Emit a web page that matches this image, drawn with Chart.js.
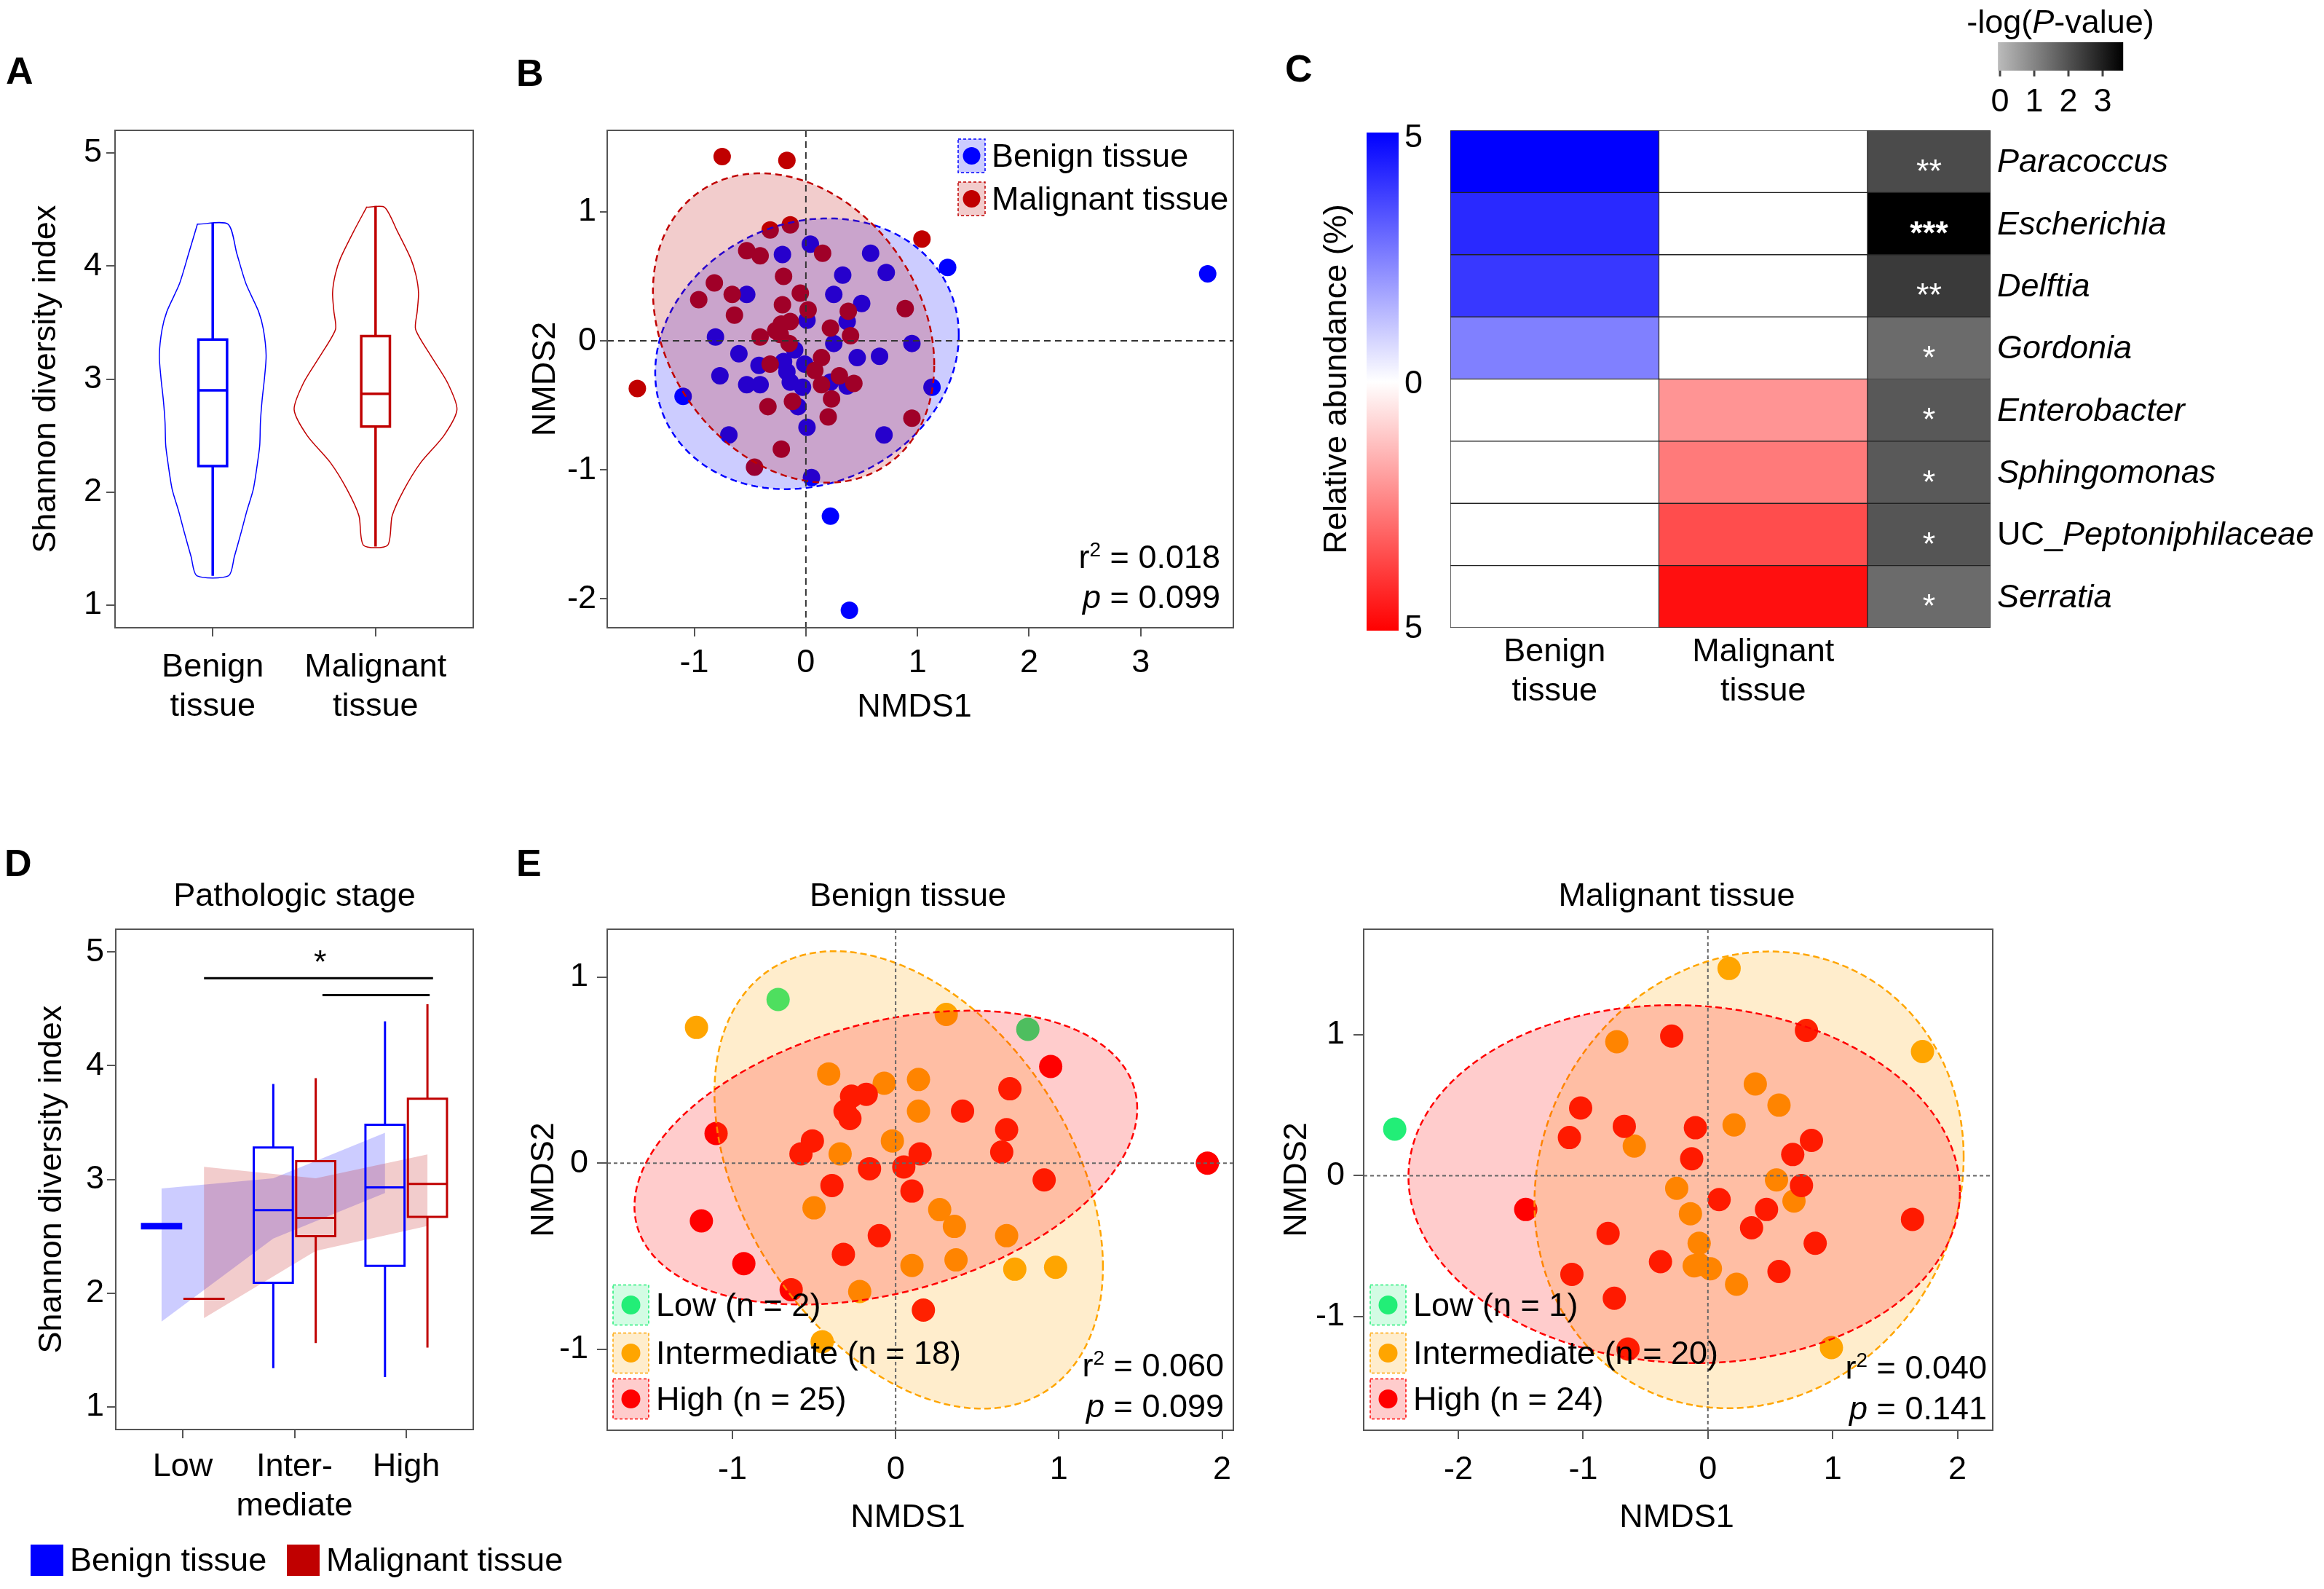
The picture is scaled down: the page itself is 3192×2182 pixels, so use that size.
<!DOCTYPE html>
<html>
<head>
<meta charset="utf-8">
<title>Microbiome figure</title>
<script src="https://cdn.jsdelivr.net/npm/chart.js@4.4.1/dist/chart.umd.min.js"></script>
<style>
  html, body { margin:0; padding:0; background:#ffffff; }
  body { position:relative; width:3192px; height:2182px; overflow:hidden; }
  canvas { position:absolute; }
  .panel { position:absolute; font: bold 52px 'Liberation Sans', Arial, sans-serif; line-height:52px; color:#000; }
</style>
</head>
<body>
<div class="panel" style="left:8px;top:71px">A</div>
<div class="panel" style="left:709px;top:74px">B</div>
<div class="panel" style="left:1765px;top:68px">C</div>
<div class="panel" style="left:6px;top:1159px">D</div>
<div class="panel" style="left:709px;top:1159px">E</div>
<script>
// ======================= DATA =======================
// Panel A – Shannon diversity per tissue (violin outline: value / half-width; box: min, q1, median, q3, max)
const tissueGroups = ['Benign tissue', 'Malignant tissue'];
const shannonTicks = [1, 2, 3, 4, 5];
const violinBenignY = [4.37, 4.11, 3.84, 3.60, 3.44, 3.21, 3.01, 2.81, 2.62, 2.42, 2.30, 2.03, 1.83, 1.63, 1.43, 1.26];
const violinBenignW = [0.094, 0.148, 0.205, 0.281, 0.311, 0.328, 0.318, 0.303, 0.293, 0.289, 0.279, 0.250, 0.209, 0.172, 0.133, 0.098];
const violinMalignantY = [4.52, 4.31, 4.07, 3.92, 3.76, 3.60, 3.44, 3.21, 2.97, 2.73, 2.50, 2.26, 2.02, 1.79, 1.53];
const violinMalignantW = [0.055, 0.133, 0.215, 0.248, 0.264, 0.256, 0.246, 0.338, 0.441, 0.500, 0.420, 0.277, 0.174, 0.102, 0.074];
const boxBenignA = [1.27, 2.23, 2.90, 3.35, 4.37];
const boxMalignantA = [1.53, 2.58, 2.87, 3.38, 4.52];

// Panel B – NMDS of all samples
const nmdsB_xTicks = [-1, 0, 1, 2, 3];
const nmdsB_yTicks = [-2, -1, 0, 1];
const benignB_x = [0.04, -0.21, 0.58, 0.72, 0.33, 1.27, -0.53, 0.25, 0.50, 0.01, 0.37, -0.81, 0.25, 0.95, -0.60, -0.10, 0.46, 0.66, -0.42, -0.20, -0.01, -0.77, -0.17, -0.14, -0.53, -0.41, -0.03, 0.22, 0.37, 1.13, -1.10, -0.07, 0.01, -0.69, 0.70, 0.05, 0.22, 0.39, 3.60];
const benignB_y = [0.75, 0.67, 0.68, 0.53, 0.51, 0.57, 0.36, 0.36, 0.29, 0.16, 0.15, 0.03, -0.02, -0.02, -0.10, -0.07, -0.13, -0.12, -0.19, -0.16, -0.18, -0.27, -0.24, -0.32, -0.34, -0.34, -0.36, -0.32, -0.35, -0.36, -0.43, -0.51, -0.67, -0.73, -0.73, -1.06, -1.36, -2.09, 0.52];
const malignantB_x = [-0.14, -0.32, -0.53, -0.41, 0.15, 1.04, -0.20, -0.82, -0.96, -0.66, -0.64, -0.05, 0.02, -0.21, -0.14, -0.22, 0.38, 0.89, 0.22, 0.40, -0.41, -0.23, -0.15, -0.32, 0.14, 0.08, 0.14, 0.30, 0.43, 0.23, -0.12, -0.34, 0.20, 0.95, -0.22, -0.46, -1.51, -0.75, -0.17, -0.27];
const malignantB_y = [0.90, 0.86, 0.70, 0.66, 0.68, 0.79, 0.50, 0.45, 0.32, 0.36, 0.20, 0.37, 0.24, 0.28, 0.15, 0.13, 0.23, 0.25, 0.10, 0.04, 0.03, 0.05, -0.02, -0.18, -0.13, -0.23, -0.34, -0.27, -0.33, -0.45, -0.47, -0.51, -0.59, -0.60, -0.84, -0.98, -0.37, 1.43, 1.40, 0.08];
// confidence ellipses: centre x, centre y, x half-extent, y half-extent, tilt
const ellipseBenignB = [0.01, -0.10, 1.36, 1.05, 0.14];
const ellipseMalignantB = [-0.11, 0.10, 1.26, 1.20, -0.24];
const statsB = ['0.018', '0.099'];

// Panel C – differentially abundant genera
const genera = ['Paracoccus', 'Escherichia', 'Delftia', 'Gordonia', 'Enterobacter', 'Sphingomonas', 'UC_Peptoniphilaceae', 'Serratia'];
const abundanceBenign = [5.0, 4.2, 3.9, 2.5, 0, 0, 0, 0];
const abundanceMalignant = [0, 0, 0, 0, 2.1, 2.6, 3.5, 4.7];
const negLogP = [2.16, 3.6, 2.48, 1.54, 1.91, 1.89, 1.96, 1.54];
const signifStars = ['**', '***', '**', '*', '*', '*', '*', '*'];
const abundanceBarTicks = ['5', '0', '5'];
const pBarTicks = [0, 1, 2, 3];

// Panel D – Shannon diversity by pathologic stage (min, q1, median, q3, max)
const stageLabels = ['Low', ['Inter-', 'mediate'], 'High'];
const stageBenign = [[2.57, 2.57, 2.589, 2.608, 2.608], [1.35, 2.09, 2.73, 3.28, 3.83], [1.27, 2.24, 2.93, 3.48, 4.38]];
const stageMalignant = [[1.95, 1.95, 1.95, 1.95, 1.95], [1.57, 2.50, 2.66, 3.16, 3.88], [1.53, 2.67, 2.96, 3.71, 4.53]];
const bandBenignLo = [1.75, 2.48, 2.88];
const bandBenignHi = [2.92, 3.01, 3.41];
const bandMalignantLo = [1.78, 2.37, 2.59];
const bandMalignantHi = [3.11, 3.01, 3.22];
const sigBrackets = [[1.19, 3.24, 4.77], [2.25, 3.21, 4.62]];
const sigMark = ['*', 2.23, 4.98];

// Panel E – NMDS by pathologic stage
const stageGroups = ['Low', 'Intermediate', 'High'];
const eBenignCounts = [2, 18, 25];
const eMalignantCounts = [1, 20, 24];
const eBenignLowX = [-0.72, 0.81];
const eBenignLowY = [0.88, 0.72];
const eBenignIntX = [-1.22, 0.31, -0.41, -0.07, 0.14, 0.14, -0.02, -0.34, -0.50, 0.27, 0.36, 0.68, 0.10, 0.37, 0.73, 0.98, -0.22, -0.45];
const eBenignIntY = [0.73, 0.80, 0.48, 0.43, 0.45, 0.28, 0.12, 0.05, -0.24, -0.25, -0.34, -0.39, -0.55, -0.52, -0.57, -0.56, -0.69, -0.96];
const eBenignHighX = [0.95, 0.70, -0.18, -0.27, -0.31, -0.28, 0.41, 0.68, -1.10, -0.51, -0.58, 0.65, 0.15, -0.16, 0.05, 1.91, 0.91, -0.39, 0.10, -1.19, -0.10, -0.32, -0.93, -0.64, 0.17];
const eBenignHighY = [0.52, 0.40, 0.37, 0.36, 0.28, 0.24, 0.28, 0.18, 0.16, 0.12, 0.05, 0.06, 0.05, -0.03, -0.02, 0.00, -0.09, -0.12, -0.15, -0.31, -0.39, -0.49, -0.54, -0.68, -0.79];
const eMalLowX = [-2.51];
const eMalLowY = [0.33];
const eMalIntX = [0.17, 1.72, -0.73, 0.38, 0.57, 0.21, -0.59, 0.55, -0.25, 0.69, -0.14, -0.07, -0.07, 0.02, 0.23, 0.99, -0.11];
const eMalIntY = [1.47, 0.88, 0.95, 0.65, 0.50, 0.36, 0.21, -0.03, -0.09, -0.18, -0.27, -0.48, -0.63, -0.66, -0.77, -1.22, -0.64];
const eMalHighX = [-0.29, 0.79, -1.02, -0.67, -1.11, -0.10, -0.13, 0.83, 0.68, 0.75, 0.09, 0.47, 0.35, 1.64, 0.86, -1.46, -0.80, -0.38, 0.57, -1.09, -0.75, -0.64];
const eMalHighY = [0.99, 1.03, 0.48, 0.35, 0.27, 0.34, 0.12, 0.25, 0.15, -0.07, -0.17, -0.24, -0.37, -0.31, -0.48, -0.24, -0.41, -0.61, -0.68, -0.70, -0.87, -1.23];
const ellipseEBenignInt = [0.08, -0.09, 1.19, 1.23, -0.39];
const ellipseEBenignHigh = [-0.06, 0.03, 1.54, 0.79, 0.34];
const ellipseEMalInt = [0.33, -0.03, 1.72, 1.62, 0.10];
const ellipseEMalHigh = [-0.19, -0.06, 2.21, 1.27, -0.04];
const statsEBenign = ['0.060', '0.099'];
const statsEMalignant = ['0.040', '0.141'];
const eBenignXTicks = [-1, 0, 1, 2];
const eBenignYTicks = [-1, 0, 1];
const eMalXTicks = [-2, -1, 0, 1, 2];
const eMalYTicks = [-1, 0, 1];

// ======================= STYLE =======================
const FONT = "'Liberation Sans', Arial, Helvetica, sans-serif";
const BLUE = '#0000ff', DRED = '#c00000';
const STAGE_COLORS = ['#22ee77', '#ffa500', '#ff0000'];
const STAGE_FILLS = ['rgba(34,238,119,0.2)', 'rgba(255,165,0,0.2)', 'rgba(255,0,0,0.2)'];
const BOX_HW_A = 0.088, BOX_HW_D = 0.175, STAGE_OFFSET = 0.19;
Chart.defaults.font.family = FONT;
Chart.defaults.font.size = 45;
Chart.defaults.color = '#000';

function font(size, style) { return (style ? style + ' ' : '') + size + 'px ' + FONT; }

function baseOptions(extra) {
  const plugins = Object.assign({ legend: { display: false }, tooltip: { enabled: false }, title: { display: false } }, extra.plugins || {});
  return Object.assign({ responsive: false, maintainAspectRatio: false, animation: false, devicePixelRatio: 1, events: [] }, extra, { plugins });
}

function zeroPad(s) { s.paddingLeft = 0; s.paddingRight = 0; s.paddingTop = 0; s.paddingBottom = 0; }

function axis(pos, min, max, ticks, o) {
  const horiz = pos === 'bottom';
  return {
    type: 'linear', position: pos, min: min, max: max,
    afterBuildTicks: s => { s.ticks = ticks.map(v => ({ value: v })); },
    afterFit: s => { if (horiz) s.height = o.size; else s.width = o.size; zeroPad(s); },
    grid: { display: true, drawOnChartArea: false, drawTicks: true, tickLength: o.tick, tickWidth: 2, tickColor: '#555', color: '#555', lineWidth: 2 },
    border: { display: false },
    ticks: { padding: o.pad, color: '#000', font: { size: 45, lineHeight: 1.2 }, maxRotation: 0, minRotation: 0, autoSkip: false,
             callback: o.labels ? ((v, i) => o.labels[i]) : (v => String(v)) },
    title: o.title ? { display: true, text: o.title, color: '#000', font: { size: 45, lineHeight: 1.2 }, padding: o.titlePad } : { display: false }
  };
}

function makeChart(id, rect, config) {
  const c = document.createElement('canvas');
  c.id = id; c.width = rect.w; c.height = rect.h;
  c.style.left = rect.x + 'px'; c.style.top = rect.y + 'px';
  c.style.width = rect.w + 'px'; c.style.height = rect.h + 'px';
  document.body.appendChild(c);
  return new Chart(c.getContext('2d'), config);
}

function lineSet(data, color, width, tension) {
  return { type: 'scatter', data: data, showLine: true, borderColor: color, borderWidth: width, pointRadius: 0, pointHoverRadius: 0,
           fill: false, tension: tension, spanGaps: false, borderCapStyle: 'square', borderJoinStyle: 'miter', clip: false };
}
function pointSet(xs, ys, color, r) {
  return { type: 'scatter', data: xs.map((x, i) => ({ x: x, y: ys[i] })), backgroundColor: color, borderWidth: 0, pointRadius: r, pointHoverRadius: r };
}
function boxPath(c, hw, s) {
  const [mn, q1, md, q3, mx] = s;
  return [
    { x: c - hw, y: q1 }, { x: c + hw, y: q1 }, { x: c + hw, y: q3 }, { x: c - hw, y: q3 }, { x: c - hw, y: q1 }, { x: c, y: null },
    { x: c - hw, y: md }, { x: c + hw, y: md }, { x: c, y: null },
    { x: c, y: q3 }, { x: c, y: mx }, { x: c, y: null },
    { x: c, y: q1 }, { x: c, y: mn }
  ];
}
function violinPath(c, ys, ws) {
  const left = ys.map((y, i) => ({ x: c - ws[i], y: y }));
  const right = ys.map((y, i) => ({ x: c + ws[i], y: y })).reverse();
  return left.concat(right, [left[0]]);
}

function drawFrame(chart) {
  const { ctx, chartArea: a } = chart;
  ctx.save(); ctx.setLineDash([]); ctx.strokeStyle = '#555'; ctx.lineWidth = 2;
  ctx.strokeRect(a.left, a.top, a.right - a.left, a.bottom - a.top);
  ctx.restore();
}
function drawCaption(chart, text, dx, y) {
  const { ctx, chartArea: a } = chart;
  ctx.save(); ctx.fillStyle = '#000'; ctx.font = font(45); ctx.textAlign = 'center'; ctx.textBaseline = 'middle';
  ctx.fillText(text, (a.left + a.right) / 2 + dx, y);
  ctx.restore();
}
function drawZeroLines(chart, color, dash, width) {
  const { ctx, chartArea: a, scales: { x, y } } = chart;
  const x0 = x.getPixelForValue(0), y0 = y.getPixelForValue(0);
  ctx.save(); ctx.beginPath(); ctx.setLineDash(dash); ctx.strokeStyle = color; ctx.lineWidth = width;
  ctx.moveTo(x0, a.top); ctx.lineTo(x0, a.bottom); ctx.moveTo(a.left, y0); ctx.lineTo(a.right, y0);
  ctx.stroke(); ctx.restore();
}
function drawEllipse(chart, e, fill, stroke, dash, width) {
  const [cx, cy, A, B, phi] = e;
  const { ctx, scales: { x, y } } = chart;
  ctx.save(); ctx.beginPath();
  for (let i = 0; i <= 240; i++) {
    const t = i / 240 * 2 * Math.PI;
    const X = x.getPixelForValue(cx + A * Math.cos(t));
    const Y = y.getPixelForValue(cy + B * Math.sin(t + phi));
    if (i === 0) ctx.moveTo(X, Y); else ctx.lineTo(X, Y);
  }
  ctx.closePath();
  ctx.fillStyle = fill; ctx.fill();
  ctx.setLineDash(dash); ctx.lineWidth = width; ctx.strokeStyle = stroke; ctx.stroke();
  ctx.restore();
}
function drawRich(ctx, parts, x, y, align, size) {
  const segs = parts.map(p => {
    const f = font(p.sup ? Math.round(size * 0.62) : size, p.i ? 'italic' : '');
    ctx.font = f;
    return { p: p, f: f, w: ctx.measureText(p.t).width };
  });
  const total = segs.reduce((s, q) => s + q.w, 0);
  let cx = align === 'right' ? x - total : align === 'center' ? x - total / 2 : x;
  ctx.textAlign = 'left'; ctx.textBaseline = 'alphabetic';
  segs.forEach(s => {
    ctx.font = s.f;
    ctx.fillText(s.p.t, cx, y + size * 0.36 - (s.p.sup ? size * 0.36 : 0));
    cx += s.w;
  });
}
function drawStats(chart, vals, pos) {
  const { ctx, chartArea: a } = chart;
  ctx.save(); ctx.fillStyle = '#000';
  drawRich(ctx, [{ t: 'r' }, { t: '2', sup: true }, { t: ' = ' + vals[0] }], a.right - pos.dr, a.bottom + pos.yr, 'right', 45);
  drawRich(ctx, [{ t: 'p', i: true }, { t: ' = ' + vals[1] }], a.right - pos.dr, a.bottom + pos.yp, 'right', 45);
  ctx.restore();
}
function legendSwatch(ctx, x0, y0, w, h, fill, col, r) {
  ctx.fillStyle = fill; ctx.fillRect(x0, y0, w, h);
  ctx.setLineDash([4, 3]); ctx.lineWidth = 1.5; ctx.strokeStyle = col; ctx.strokeRect(x0, y0, w, h);
  ctx.setLineDash([]); ctx.fillStyle = col; ctx.beginPath(); ctx.arc(x0 + w / 2, y0 + h / 2, r, 0, 2 * Math.PI); ctx.fill();
}

// ======================= PANEL A =======================
makeChart('chartA', { x: 20, y: 159, w: 650, h: 843 }, {
  type: 'scatter',
  data: { datasets: [
    lineSet(violinPath(1, violinBenignY, violinBenignW), BLUE, 1.5, 0.25),
    lineSet(violinPath(2, violinMalignantY, violinMalignantW), DRED, 1.5, 0.25),
    lineSet(boxPath(1, BOX_HW_A, boxBenignA), BLUE, 3.5, 0),
    lineSet(boxPath(2, BOX_HW_A, boxMalignantA), DRED, 3.5, 0)
  ] },
  options: baseOptions({
    layout: { padding: { left: 0, top: 20, right: 20, bottom: 0 } },
    scales: {
      x: axis('bottom', 0.4, 2.6, [1, 2], { size: 140, tick: 12, pad: 16, labels: tissueGroups.map(t => t.split(' ')) }),
      y: axis('left', 0.8, 5.2, shannonTicks, { size: 138, tick: 12, pad: 6, title: 'Shannon diversity index', titlePad: { top: 17, bottom: 0 } })
    }
  }),
  plugins: [{ id: 'aFrame', afterDatasetsDraw: drawFrame }]
});

// ======================= PANEL B =======================
makeChart('chartB', { x: 720, y: 159, w: 994, h: 843 }, {
  type: 'scatter',
  data: { datasets: [
    pointSet(malignantB_x, malignantB_y, DRED, 12),
    pointSet(benignB_x, benignB_y, BLUE, 12)
  ] },
  options: baseOptions({
    layout: { padding: { left: 0, top: 20, right: 20, bottom: 0 } },
    scales: {
      x: axis('bottom', -1.78, 3.83, nmdsB_xTicks, { size: 140, tick: 12, pad: 10 }),
      y: axis('left', -2.225, 1.633, nmdsB_yTicks, { size: 114, tick: 10, pad: 5, title: 'NMDS2', titlePad: { top: 3, bottom: 0 } })
    }
  }),
  plugins: [{
    id: 'bExtras',
    afterDatasetsDraw(chart) {
      drawEllipse(chart, ellipseBenignB, 'rgba(0,0,255,0.2)', BLUE, [9, 6], 2.5);
      drawEllipse(chart, ellipseMalignantB, 'rgba(192,0,0,0.2)', DRED, [9, 6], 2.5);
      drawZeroLines(chart, '#333', [9, 6], 2);
      drawFrame(chart);
    },
    afterDraw(chart) {
      const { ctx, chartArea: a } = chart;
      drawCaption(chart, 'NMDS1', -8, a.bottom + 110);
      const items = [[tissueGroups[0], BLUE, 'rgba(0,0,255,0.2)'], [tissueGroups[1], DRED, 'rgba(192,0,0,0.2)']];
      items.forEach((it, i) => {
        const x0 = a.right - 378, y0 = a.top + 12 + i * 59, w = 37, h = 46;
        ctx.save();
        legendSwatch(ctx, x0, y0, w, h, it[2], it[1], 12);
        ctx.fillStyle = '#000'; ctx.font = font(45); ctx.textAlign = 'left'; ctx.textBaseline = 'middle';
        ctx.fillText(it[0], x0 + w + 9, y0 + h / 2 + 3);
        ctx.restore();
      });
      drawStats(chart, statsB, { dr: 18, yr: -98, yp: -43 });
    }
  }]
});

// ======================= PANEL C =======================
const blueShade = v => { const c = Math.round(255 * (1 - v / 5)); return `rgb(${c},${c},255)`; };
const redShade = v => { const c = Math.round(255 * (1 - v / 5)); return `rgb(255,${c},${c})`; };
const grayShade = v => { const c = Math.round(187 * (1 - Math.min(v, 3.6) / 3.6)); return `rgb(${c},${c},${c})`; };
function cellSet(label, span, colors) {
  return { label: label, data: genera.map(() => span), backgroundColor: colors, borderColor: '#222', borderWidth: 1,
           borderSkipped: false, barPercentage: 1, categoryPercentage: 1, grouped: false };
}
makeChart('chartC', { x: 1800, y: 0, w: 1392, h: 1000 }, {
  type: 'bar',
  data: { labels: genera, datasets: [
    cellSet(tissueGroups[0], [0, 1], abundanceBenign.map(blueShade)),
    cellSet(tissueGroups[1], [1, 2], abundanceMalignant.map(redShade)),
    cellSet('-log(P-value)', [2, 2.59], negLogP.map(grayShade))
  ] },
  options: baseOptions({
    indexAxis: 'y',
    layout: { padding: { left: 0, top: 179, right: 458, bottom: 0 } },
    scales: {
      x: { type: 'linear', position: 'bottom', min: 0, max: 2.59,
           afterBuildTicks: s => { s.ticks = [{ value: 0.5 }, { value: 1.5 }]; },
           afterFit: s => { s.height = 138; zeroPad(s); },
           grid: { display: false, drawTicks: false }, border: { display: false },
           ticks: { padding: 7, color: '#000', font: { size: 45, lineHeight: 1.2 }, maxRotation: 0, autoSkip: false, callback: (v, i) => tissueGroups[i].split(' ') } },
      y: { type: 'category', position: 'left',
           afterFit: s => { s.width = 192; zeroPad(s); },
           grid: { display: false, drawTicks: false }, border: { display: false }, ticks: { display: false },
           title: { display: true, text: 'Relative abundance (%)', color: '#000', font: { size: 45, lineHeight: 1.2 }, padding: { top: 10, bottom: 0 } } }
    }
  }),
  plugins: [{
    id: 'cExtras',
    afterDraw(chart) {
      const { ctx, chartArea: a, scales: { x, y } } = chart;
      ctx.save();
      genera.forEach((g, i) => {
        const yy = y.getPixelForValue(i);
        let xx = a.right + 9, name = g;
        ctx.fillStyle = '#000'; ctx.textAlign = 'left'; ctx.textBaseline = 'middle';
        if (g.startsWith('UC_')) { ctx.font = font(45); ctx.fillText('UC_', xx, yy + 2); xx += ctx.measureText('UC_').width; name = g.slice(3); }
        ctx.font = font(45, 'italic'); ctx.fillText(name, xx, yy + 2);
        ctx.fillStyle = '#fff'; ctx.textAlign = 'center'; ctx.textBaseline = 'alphabetic';
        ctx.font = font(45, signifStars[i].length > 2 ? 'bold' : '');
        ctx.fillText(signifStars[i], x.getPixelForValue(2.295), yy + 28);
      });
      // relative abundance colour bar
      const bx = a.left - 115, bw = 44, bt = a.top + 3, bb = a.bottom + 4;
      const g1 = ctx.createLinearGradient(0, bt, 0, bb);
      g1.addColorStop(0, '#0000ff'); g1.addColorStop(0.5, '#ffffff'); g1.addColorStop(1, '#ff0000');
      ctx.fillStyle = g1; ctx.fillRect(bx, bt, bw, bb - bt);
      ctx.fillStyle = '#000'; ctx.font = font(45); ctx.textAlign = 'left'; ctx.textBaseline = 'middle';
      const ly = [bt + 8, (bt + bb) / 2 + 4, bb - 2];
      abundanceBarTicks.forEach((t, i) => ctx.fillText(t, bx + bw + 8, ly[i]));
      // -log(P) colour bar
      const unit = 47, px0 = a.right + 13, pl = px0 - 0.06 * unit, pr = px0 + 3.6 * unit, pt = a.top - 121, pb = a.top - 82;
      const g2 = ctx.createLinearGradient(pl, 0, pr, 0);
      g2.addColorStop(0, grayShade(0)); g2.addColorStop(1, grayShade(3.6));
      ctx.fillStyle = g2; ctx.fillRect(pl, pt, pr - pl, pb - pt);
      ctx.textAlign = 'center'; ctx.textBaseline = 'middle';
      pBarTicks.forEach(v => {
        const tx = px0 + v * unit;
        ctx.fillStyle = '#444'; ctx.fillRect(tx - 1.5, pb, 3, 8);
        ctx.fillStyle = '#000'; ctx.font = font(45); ctx.fillText(String(v), tx, a.top - 38);
      });
      ctx.fillStyle = '#000';
      drawRich(ctx, [{ t: '-log(' }, { t: 'P', i: true }, { t: '-value)' }], px0 + 83, a.top - 150, 'center', 45);
      ctx.restore();
    }
  }]
});

// ======================= PANEL D =======================
const stagePos = stageLabels.map((_, i) => i + 1);
const dSets = [];
stagePos.forEach((c, i) => {
  dSets.push(lineSet(boxPath(c + STAGE_OFFSET, BOX_HW_D, stageMalignant[i]), DRED, 3, 0));
  dSets.push(lineSet(boxPath(c - STAGE_OFFSET, BOX_HW_D, stageBenign[i]), BLUE, 3, 0));
});
function drawBand(chart, xs, lo, hi, fill) {
  const { ctx, scales: { x, y } } = chart;
  ctx.save(); ctx.beginPath();
  xs.forEach((v, i) => { const X = x.getPixelForValue(v), Y = y.getPixelForValue(hi[i]); if (i === 0) ctx.moveTo(X, Y); else ctx.lineTo(X, Y); });
  for (let i = xs.length - 1; i >= 0; i--) ctx.lineTo(x.getPixelForValue(xs[i]), y.getPixelForValue(lo[i]));
  ctx.closePath(); ctx.fillStyle = fill; ctx.fill(); ctx.restore();
}
makeChart('chartD', { x: 20, y: 1186, w: 780, h: 996 }, {
  type: 'scatter',
  data: { datasets: dSets },
  options: baseOptions({
    layout: { padding: { left: 0, top: 0, right: 150, bottom: 0 } },
    plugins: { title: { display: true, text: 'Pathologic stage', fullSize: false, color: '#000', font: { size: 45, weight: 'normal', lineHeight: 1.2 }, padding: { top: 19, bottom: 17 } } },
    scales: {
      x: axis('bottom', 0.4, 3.6, stagePos, { size: 219, tick: 12, pad: 13, labels: stageLabels }),
      y: axis('left', 0.8, 5.2, shannonTicks, { size: 139, tick: 12, pad: 4, title: 'Shannon diversity index', titlePad: { top: 25, bottom: 0 } })
    }
  }),
  plugins: [{
    id: 'dExtras',
    beforeDatasetsDraw(chart) {
      drawBand(chart, stagePos.map(c => c - STAGE_OFFSET), bandBenignLo, bandBenignHi, 'rgba(0,0,255,0.2)');
      drawBand(chart, stagePos.map(c => c + STAGE_OFFSET), bandMalignantLo, bandMalignantHi, 'rgba(192,0,0,0.2)');
    },
    afterDatasetsDraw(chart) {
      const { ctx, scales: { x, y } } = chart;
      ctx.save(); ctx.strokeStyle = '#000'; ctx.lineWidth = 3; ctx.beginPath();
      sigBrackets.forEach(b => { ctx.moveTo(x.getPixelForValue(b[0]), y.getPixelForValue(b[2])); ctx.lineTo(x.getPixelForValue(b[1]), y.getPixelForValue(b[2])); });
      ctx.stroke();
      ctx.fillStyle = '#000'; ctx.font = font(45); ctx.textAlign = 'center'; ctx.textBaseline = 'alphabetic';
      ctx.fillText(sigMark[0], x.getPixelForValue(sigMark[1]), y.getPixelForValue(sigMark[2]) + 26);
      ctx.restore();
      drawFrame(chart);
    },
    afterDraw(chart) {
      const { ctx, chartArea: a } = chart;
      const items = [[tissueGroups[0], BLUE, -117], [tissueGroups[1], DRED, 235]];
      ctx.save();
      items.forEach(it => {
        const x0 = a.left + it[2], y0 = a.bottom + 158;
        ctx.fillStyle = it[1]; ctx.fillRect(x0, y0, 45, 43);
        ctx.fillStyle = '#000'; ctx.font = font(45); ctx.textAlign = 'left'; ctx.textBaseline = 'middle';
        ctx.fillText(it[0], x0 + 54, y0 + 24);
      });
      ctx.restore();
    }
  }]
});

// ======================= PANEL E =======================
function drawLegendE(chart, labels, dx) {
  const { ctx, chartArea: a } = chart;
  const rows = [-172, -106, -43];
  labels.forEach((lab, k) => {
    const cy = a.bottom + rows[k], x0 = a.left + dx, w = 49, h = 55;
    ctx.save();
    legendSwatch(ctx, x0, cy - h / 2, w, h, STAGE_FILLS[k], STAGE_COLORS[k], 13);
    ctx.fillStyle = '#000'; ctx.font = font(45); ctx.textAlign = 'left'; ctx.textBaseline = 'middle';
    ctx.fillText(lab, x0 + w + 10, cy + 3);
    ctx.restore();
  });
}
function makeEChart(id, rect, cfg) {
  const sets = cfg.groups.map((g, k) => pointSet(g[0], g[1], STAGE_COLORS[k], 16)).reverse();
  return makeChart(id, rect, {
    type: 'scatter',
    data: { datasets: sets },
    options: baseOptions({
      layout: { padding: { left: 0, top: 90, right: 20, bottom: 0 } },
      scales: {
        x: axis('bottom', cfg.xr[0], cfg.xr[1], cfg.xTicks, { size: 166, tick: 12, pad: 16 }),
        y: axis('left', cfg.yr[0], cfg.yr[1], cfg.yTicks, { size: cfg.ySize, tick: 14, pad: 12, title: 'NMDS2', titlePad: { top: cfg.yTitlePad, bottom: 0 } })
      }
    }),
    plugins: [{
      id: id + 'Extras',
      afterDatasetsDraw(chart) {
        drawEllipse(chart, cfg.ellipses[0], STAGE_FILLS[1], STAGE_COLORS[1], [9, 5], 2.5);
        drawEllipse(chart, cfg.ellipses[1], STAGE_FILLS[2], STAGE_COLORS[2], [9, 5], 2.5);
        drawZeroLines(chart, '#666', [5, 4], 2);
        drawFrame(chart);
      },
      afterDraw(chart) {
        const a = chart.chartArea;
        drawCaption(chart, cfg.title, cfg.titleDx, a.top - 44);
        drawCaption(chart, 'NMDS1', cfg.titleDx, a.bottom + 121);
        drawLegendE(chart, cfg.legend, cfg.legendDx);
        drawStats(chart, cfg.stats, cfg.statsPos);
      }
    }]
  });
}
makeEChart('chartEBenign', { x: 720, y: 1186, w: 994, h: 944 }, {
  title: tissueGroups[0], titleDx: -17,
  groups: [[eBenignLowX, eBenignLowY], [eBenignIntX, eBenignIntY], [eBenignHighX, eBenignHighY]],
  xr: [-1.767, 2.069], yr: [-1.436, 1.258], xTicks: eBenignXTicks, yTicks: eBenignYTicks,
  ySize: 114, yTitlePad: 1,
  ellipses: [ellipseEBenignInt, ellipseEBenignHigh],
  legend: stageGroups.map((g, k) => `${g} (n = ${eBenignCounts[k]})`), legendDx: 8,
  stats: statsEBenign, statsPos: { dr: 13, yr: -90, yp: -34 }
});
makeEChart('chartEMalignant', { x: 1750, y: 1186, w: 1007, h: 944 }, {
  title: tissueGroups[1], titleDx: -2,
  groups: [[eMalLowX, eMalLowY], [eMalIntX, eMalIntY], [eMalHighX, eMalHighY]],
  xr: [-2.759, 2.283], yr: [-1.806, 1.748], xTicks: eMalXTicks, yTicks: eMalYTicks,
  ySize: 123, yTitlePad: 5,
  ellipses: [ellipseEMalInt, ellipseEMalHigh],
  legend: stageGroups.map((g, k) => `${g} (n = ${eMalignantCounts[k]})`), legendDx: 9,
  stats: statsEMalignant, statsPos: { dr: 8, yr: -87, yp: -31 }
});
</script>
</body>
</html>
